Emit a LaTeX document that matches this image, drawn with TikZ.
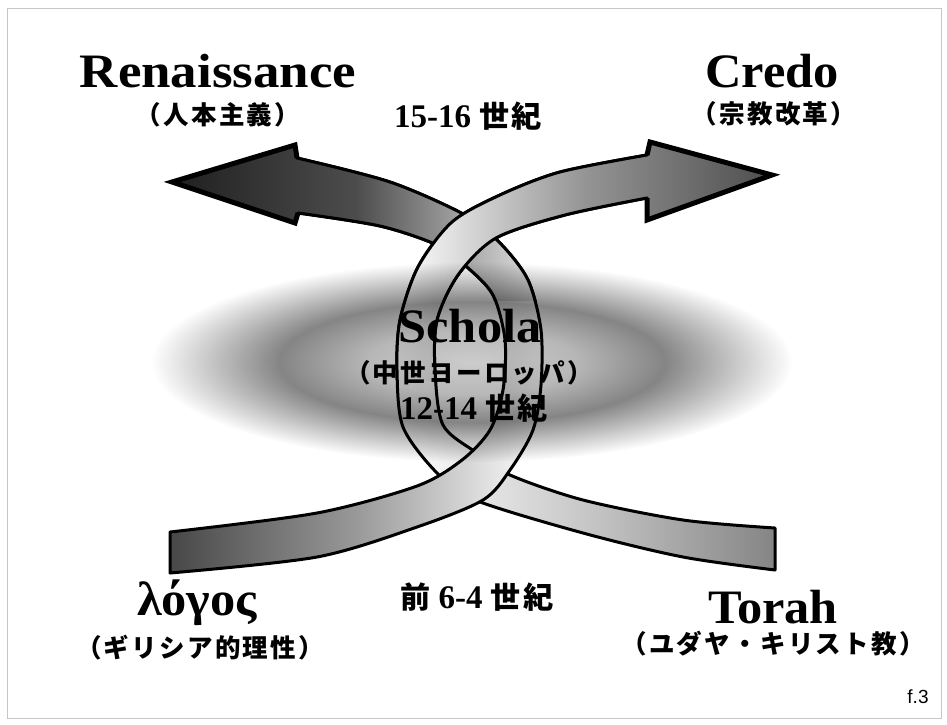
\documentclass[tikz,border=0pt]{standalone}
\usepackage{fontspec}
\setmainfont{Liberation Serif}
\newfontfamily\jp{Noto Sans CJK JP}[LetterSpace=9]
\newfontfamily\labelsans{Liberation Sans}
\usetikzlibrary{fadings}
\pgfdeclareradialshading{hazeshading}{\pgfpointorigin}{color(0bp)=(black!80); color(8bp)=(black!72); color(15bp)=(black!52); color(25bp)=(black); color(50bp)=(black)}
\pgfdeclarefading{haze}{\pgfuseshading{hazeshading}}
\newcommand{\seiki}{{\jp\fontsize{30}{30}\selectfont 世紀}}
% ribbon from Torah up to Credo
\newcommand{\credoband}{(772,175) -- (650,142) -- (647,155) -- plot[smooth] coordinates {(647,155) (560,172) (500,195) (452,222) (418,267) (400,320) (397,370) (403,427) (437,473) (475,500) (583,533) (683,557) (775,570)} -- (775,528) -- plot[smooth] coordinates {(775,528) (683,520) (583,500) (510,475) (477,453) (443,425) (435,370) (437,320) (458,275) (496,238) (565,215) (647,198)} -- (647,220) -- cycle}
% ribbon from logos up to Renaissance
\newcommand{\renband}{(172,182) -- (295,145) -- (297,158) -- plot[smooth] coordinates {(297,158) (390,182) (465,215) (500,243) (528,280) (541,330) (541,385) (533,430) (510,470) (483,500) (417,527) (317,557) (170,573)} -- (170,532) -- plot[smooth] coordinates {(170,532) (317,513) (417,486) (462,460) (490,430) (503,390) (505,340) (493,295) (467,267) (437,245) (380,226) (298,213)} -- (295,223) -- cycle}
\begin{document}
\begin{tikzpicture}[x=1pt,y=-1pt,
  band/.style={draw=black,line width=3,line join=round},
  headline/.style={draw=black,line width=5,line join=miter},
  torahshade/.style={left color=white,right color=black!48,middle color=black!22},
  credoshade/.style={left color=white,right color=black!70,middle color=black!42},
  logosshade/.style={left color=black!72,right color=white,middle color=black!40},
  renshade/.style={left color=black!88,right color=black!10,middle color=black!70},
  title/.style={font=\fontsize{48}{50}\selectfont\bfseries,inner sep=0pt,anchor=base,xscale=1.05},
  gloss/.style={font=\jp\bfseries\fontsize{25.5}{26}\selectfont,inner sep=0pt},
  era/.style={font=\fontsize{33}{34}\selectfont\bfseries,inner sep=0pt,anchor=base}]
	\useasboundingbox (0,0) rectangle (947,724);
	\fill[white] (0,0) rectangle (947,724);
	\draw[gray!45,line width=1] (7,8) rectangle (941,718);
	% the two ribbons, twisted over each other
	\shade[band,torahshade] \credoband;
	\shade[band,logosshade] \renband;
	\begin{scope}
		\clip (0,0) rectangle (947,300);
		\shade[band,renshade] \renband;
	\end{scope}
	\draw[headline] (297,158) -- (295,145) -- (172,182) -- (295,223) -- (298,213);
	\begin{scope}
		\clip (0,0) rectangle (947,380);
		\shade[band,credoshade] \credoband;
	\end{scope}
	\draw[headline] (647,155) -- (650,142) -- (772,175) -- (647,220) -- (647,198);
	\fill[black,path fading=haze] (472,362) ellipse [x radius=320,y radius=100];
	% labels
	\node[title,xscale=1.05] (renaissance) at (218,87) {Renaissance};
	\node[gloss] (humanism) at (218,115) {（人本主義）};
	\node[era] (early) at (468,127) {15-16 \seiki};
	\node[title] (credo) at (772,87) {Credo};
	\node[gloss] (reform) at (774,114) {（宗教改革）};
	\node[title] (schola) at (470,342) {Schola};
	\node[gloss] (medieval) at (469,373) {（中世ヨーロッパ）};
	\node[era] (middle) at (474,419) {12-14 \seiki};
	\node[title] (logos) at (197,615) {λόγος};
	\node[gloss] (reason) at (200,648) {（ギリシア的理性）};
	\node[era] (ancient) at (477,608) {{\jp\fontsize{30}{30}\selectfont 前} 6-4 \seiki};
	\node[title] (torah) at (773,623) {Torah};
	\node[gloss] (judeo) at (773,644) {（ユダヤ・キリスト教）};
	\node[font=\labelsans\fontsize{19}{19}\selectfont,inner sep=0pt] (fig) at (918,697) {f.3};
\end{tikzpicture}
\end{document}
